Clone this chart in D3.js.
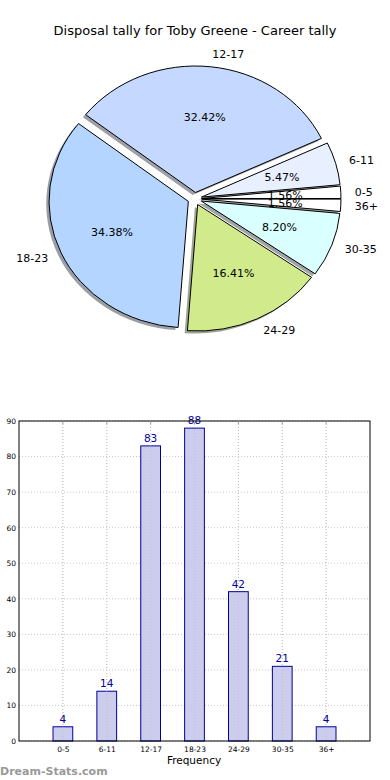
<!DOCTYPE html>
<html>
<head>
<meta charset="utf-8">
<script src="https://cdn.jsdelivr.net/npm/d3@7"></script>
<style>
  body { margin: 0; background: #fff; }
  svg { display: block; font-family: "DejaVu Sans", sans-serif; }
</style>
</head>
<body>
<div id="chart"></div>
<script>
// data
const categories = ["0-5", "6-11", "12-17", "18-23", "24-29", "30-35", "36+"];
const counts = [4, 14, 83, 88, 42, 21, 4];
const sliceColors = ["#ffffff", "#e8efff", "#c5d8ff", "#b3d5ff", "#d1eb8c", "#d9ffff", "#ffffff"];
const yTicks = [0, 10, 20, 30, 40, 50, 60, 70, 80, 90];

const W = 390, H = 780;
const svg = d3.select("#chart").append("svg")
    .attr("width", W)
    .attr("height", H);

// title
svg.append("text")
    .attr("x", 195)
    .attr("y", 35)
    .attr("text-anchor", "middle")
    .style("font-size", "13px")
    .text("Disposal tally for Toby Greene - Career tally");

/* ---------- pie ---------- */
const cx = 194.7, cy = 198.8;
const rx = 139.3, ry = 126.5;
const explode = 0.05;
const sy = ry / rx;
const total = d3.sum(counts);

// matplotlib style: start at 3 o'clock, go counter-clockwise
const pie = d3.pie().sort(null)
    .startAngle(Math.PI / 2)
    .endAngle(Math.PI / 2 - 2 * Math.PI);
const arcs = pie(counts);

const arc = d3.arc().innerRadius(0).outerRadius(rx);

function offset(d, dist) {
    let a = (d.startAngle + d.endAngle) / 2;
    return [Math.sin(a) * dist * rx, -Math.cos(a) * dist * ry];
}

const pieG = svg.append("g");

// shadows first
arcs.forEach((d, i) => {
    let o = offset(d, explode);
    let c = d3.rgb(sliceColors[i]);
    pieG.append("path")
        .attr("d", arc(d))
        .attr("transform", `translate(${cx + o[0] - 2.8},${cy + o[1] + 2.5}) scale(1,${sy})`)
        .attr("fill", d3.rgb(c.r * 0.3, c.g * 0.3, c.b * 0.3))
        .attr("fill-opacity", 0.5);
});

arcs.forEach((d, i) => {
    let o = offset(d, explode);
    pieG.append("path")
        .attr("d", arc(d))
        .attr("transform", `translate(${cx + o[0]},${cy + o[1]}) scale(1,${sy})`)
        .attr("fill", sliceColors[i])
        .attr("stroke", "#000")
        .attr("stroke-width", 1)
        .attr("vector-effect", "non-scaling-stroke");
});

// labels
arcs.forEach((d, i) => {
    let o = offset(d, explode);
    let l = offset(d, 1.1);
    pieG.append("text")
        .attr("x", cx + o[0] + l[0])
        .attr("y", cy + o[1] + l[1])
        .attr("dy", "0.35em")
        .attr("text-anchor", l[0] > 0 ? "start" : "end")
        .style("font-size", "11px")
        .text(categories[i]);

    let p = offset(d, 0.6);
    pieG.append("text")
        .attr("x", cx + o[0] + p[0])
        .attr("y", cy + o[1] + p[1])
        .attr("dy", "0.35em")
        .attr("text-anchor", "middle")
        .style("font-size", "11px")
        .text((counts[i] / total * 100).toFixed(2) + "%");
});

/* ---------- bars ---------- */
const plotL = 19, plotR = 370, plotT = 421, plotB = 741;

const x = d3.scalePoint()
    .domain(categories)
    .range([plotL, plotR])
    .padding(1);

const y = d3.scaleLinear()
    .domain([0, 90])
    .range([plotB, plotT]);

const barG = svg.append("g");

// grid
barG.selectAll(".vgrid")
    .data(categories)
    .enter()
    .append("line")
    .attr("x1", d => x(d)).attr("x2", d => x(d))
    .attr("y1", plotT).attr("y2", plotB)
    .attr("stroke", "#c8c8c8")
    .attr("stroke-dasharray", "1,2");

barG.selectAll(".hgrid")
    .data(yTicks)
    .enter()
    .append("line")
    .attr("x1", plotL).attr("x2", plotR)
    .attr("y1", d => y(d)).attr("y2", d => y(d))
    .attr("stroke", "#c8c8c8")
    .attr("stroke-dasharray", "1,2");

const bw = x.step() * 0.45;

barG.selectAll(".bar")
    .data(counts)
    .enter()
    .append("rect")
    .attr("x", (d, i) => x(categories[i]) - bw / 2)
    .attr("y", d => y(d))
    .attr("width", bw)
    .attr("height", d => y(0) - y(d))
    .attr("fill", "#ccccec")
    .attr("stroke", "#000099")
    .attr("stroke-width", 1);

// grid over the bars too
barG.selectAll(".vgrid2")
    .data(categories)
    .enter()
    .append("line")
    .attr("x1", d => x(d)).attr("x2", d => x(d))
    .attr("y1", plotT).attr("y2", plotB)
    .attr("stroke", "#b8b8c8")
    .attr("stroke-opacity", 0.6)
    .attr("stroke-dasharray", "1,2");

barG.selectAll(".val")
    .data(counts)
    .enter()
    .append("text")
    .attr("x", (d, i) => x(categories[i]))
    .attr("y", d => y(d) - 4)
    .attr("text-anchor", "middle")
    .attr("fill", "#000099")
    .style("font-size", "10.5px")
    .text(d => d);

// frame
barG.append("rect")
    .attr("x", plotL).attr("y", plotT)
    .attr("width", plotR - plotL).attr("height", plotB - plotT)
    .attr("fill", "none")
    .attr("stroke", "#000")
    .attr("stroke-width", 1);

// axes
const yAxis = d3.axisLeft(y).tickValues(yTicks).tickSize(0).tickPadding(3);
const gy = barG.append("g")
    .attr("transform", `translate(${plotL},0)`)
    .call(yAxis);
gy.select(".domain").remove();
gy.selectAll("text").style("font-size", "7.5px").style("font-family", "DejaVu Sans");

const xAxis = d3.axisBottom(x).tickSize(0).tickPadding(6);
const gx = barG.append("g")
    .attr("transform", `translate(0,${plotB})`)
    .call(xAxis);
gx.select(".domain").remove();
gx.selectAll("text").style("font-size", "7.5px").style("font-family", "DejaVu Sans");

// small inside tick marks
barG.selectAll(".tkTop")
    .data(categories)
    .enter()
    .append("line")
    .attr("x1", d => x(d)).attr("x2", d => x(d))
    .attr("y1", plotT).attr("y2", plotT + 3)
    .attr("stroke", "#999");

svg.append("text")
    .attr("x", 194)
    .attr("y", 764)
    .attr("text-anchor", "middle")
    .style("font-size", "10.5px")
    .text("Frequency");

svg.append("text")
    .attr("x", 0)
    .attr("y", 775)
    .attr("fill", "#999")
    .style("font-size", "11px")
    .style("font-weight", "bold")
    .text("Dream-Stats.com");
</script>
</body>
</html>
